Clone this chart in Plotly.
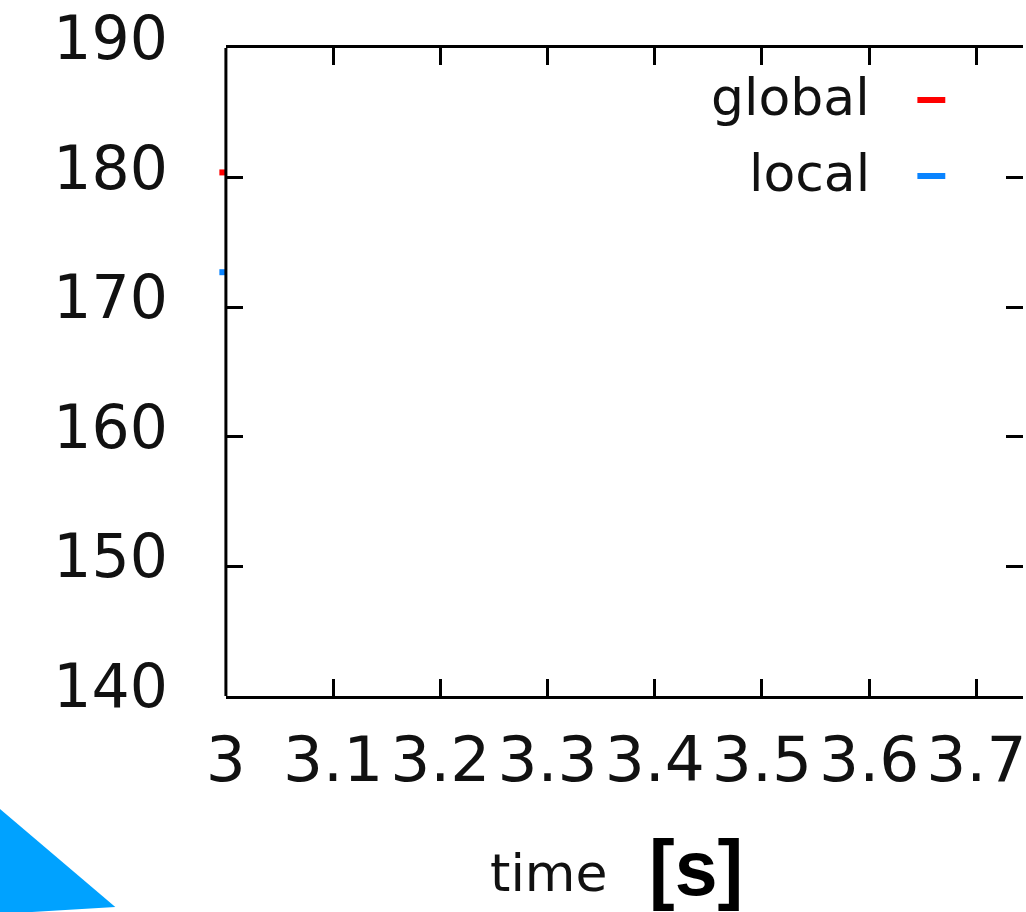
import plotly.graph_objects as go

# ---- data ----
time_vals = [2.9967]
global_vals = [180.4]
local_vals = [172.7]
series_names = ["global", "local"]
series_colors = ["#FF0000", "#0A84FF"]
x_ticks = [3.0, 3.1, 3.2, 3.3, 3.4, 3.5, 3.6, 3.7]
x_ticktext = ["3", "3.1", "3.2", "3.3", "3.4", "3.5", "3.6", "3.7"]
y_ticks = [140, 150, 160, 170, 180, 190]

W, H = 1026, 912
L, R, T, B = 200, 0, 48, 216
AX_LEFT = 226          # pixel where x=3.0 sits
PX_PER_UNIT = 1076.0
X0 = 3.0
pw, ph = W - L - R, H - T - B


def px(x):
    return (x - L) / pw


def py(y):
    return (H - B - y) / ph


x_rng = [X0, X0 + (W - R - AX_LEFT) / PX_PER_UNIT]
x2_rng = [X0 + (L - AX_LEFT) / PX_PER_UNIT, x_rng[1]]

ytickfont = dict(family="DejaVu Sans", size=60, color="#111111")
xtickfont = dict(family="DejaVu Sans", size=63, color="#111111")

fig = go.Figure()
# empty trace so that the main (x, y) subplot with its axes exists
fig.add_trace(go.Scatter(x=[], y=[], xaxis="x", yaxis="y", showlegend=False,
                         hoverinfo="skip"))
for name, vals, col in zip(series_names, [global_vals, local_vals], series_colors):
    fig.add_trace(go.Scatter(
        x=time_vals, y=vals, name=name, mode="markers",
        marker=dict(symbol="square", size=6, color=col, line=dict(width=0)),
        xaxis="x2", yaxis="y2", showlegend=False,
    ))

fig.update_layout(
    width=W, height=H,
    margin=dict(l=L, r=R, t=T, b=B, pad=0),
    paper_bgcolor="white", plot_bgcolor="rgba(0,0,0,0)",
    showlegend=False,
    xaxis=dict(
        domain=[px(AX_LEFT), 1.0], range=x_rng, anchor="y",
        tickmode="array", tickvals=x_ticks, ticktext=x_ticktext,
        ticks="inside", ticklen=17, tickwidth=2.5, tickcolor="black",
        showline=True, linewidth=3, linecolor="black", mirror="ticks",
        showgrid=False, zeroline=False, tickfont=xtickfont,
        ticklabelstandoff=6, ticklabeloverflow="allow",
    ),
    yaxis=dict(
        domain=[0.0, 1.0], range=[140, 190], anchor="x",
        tickmode="array", tickvals=y_ticks,
        ticks="inside", ticklen=17, tickwidth=2.5, tickcolor="black",
        showline=False, mirror="ticks",
        showgrid=False, zeroline=False, tickfont=ytickfont,
        ticklabelstandoff=57, ticklabelshift=-10, ticklabeloverflow="allow",
    ),
    # invisible axes for the data points (same scale, wider domain so the
    # points just left of the frame are not clipped)
    xaxis2=dict(
        domain=[0.0, 1.0], range=x2_rng, anchor="y2", visible=False,
        showgrid=False, zeroline=False,
    ),
    yaxis2=dict(
        domain=[0.0, 1.0], range=[140, 190], anchor="x2", visible=False,
        showgrid=False, zeroline=False,
    ),
)

# left frame line (right frame lies outside the visible page)
fig.add_shape(type="line", xref="x domain", yref="y domain",
              x0=0, x1=0, y0=0, y1=1, line=dict(color="black", width=3))

# legend (gnuplot style: text right-aligned, sample to the right)
leg_font = dict(family="DejaVu Sans", size=52, color="#111111")
for name, col, ycen in zip(series_names, series_colors, [100, 176]):
    fig.add_annotation(text=name, xref="paper", yref="paper",
                       x=px(874), y=py(ycen - 3), xanchor="right", yanchor="middle",
                       showarrow=False, font=leg_font)
    fig.add_shape(type="line", xref="paper", yref="paper",
                  x0=px(920), x1=px(948), y0=py(ycen), y1=py(ycen),
                  line=dict(color=col, width=6))

# axis title
fig.add_annotation(text="time", xref="paper", yref="paper",
                   x=px(489), y=py(873), xanchor="left", yanchor="middle",
                   showarrow=False,
                   font=dict(family="DejaVu Sans", size=52, color="#111111"))
fig.add_annotation(text="<b>[s]</b>", xref="paper", yref="paper",
                   x=px(649), y=py(868), xanchor="left", yanchor="middle",
                   showarrow=False,
                   font=dict(family="Liberation Sans", size=77, color="black"))

# blue corner triangle
fig.add_shape(type="path", xref="paper", yref="paper",
              path=f"M {px(-2)},{py(808)} L {px(115)},{py(907)} L {px(-2)},{py(914)} Z",
              fillcolor="#00A2FF", line=dict(width=0), layer="above")

fig.write_html("out.html")
